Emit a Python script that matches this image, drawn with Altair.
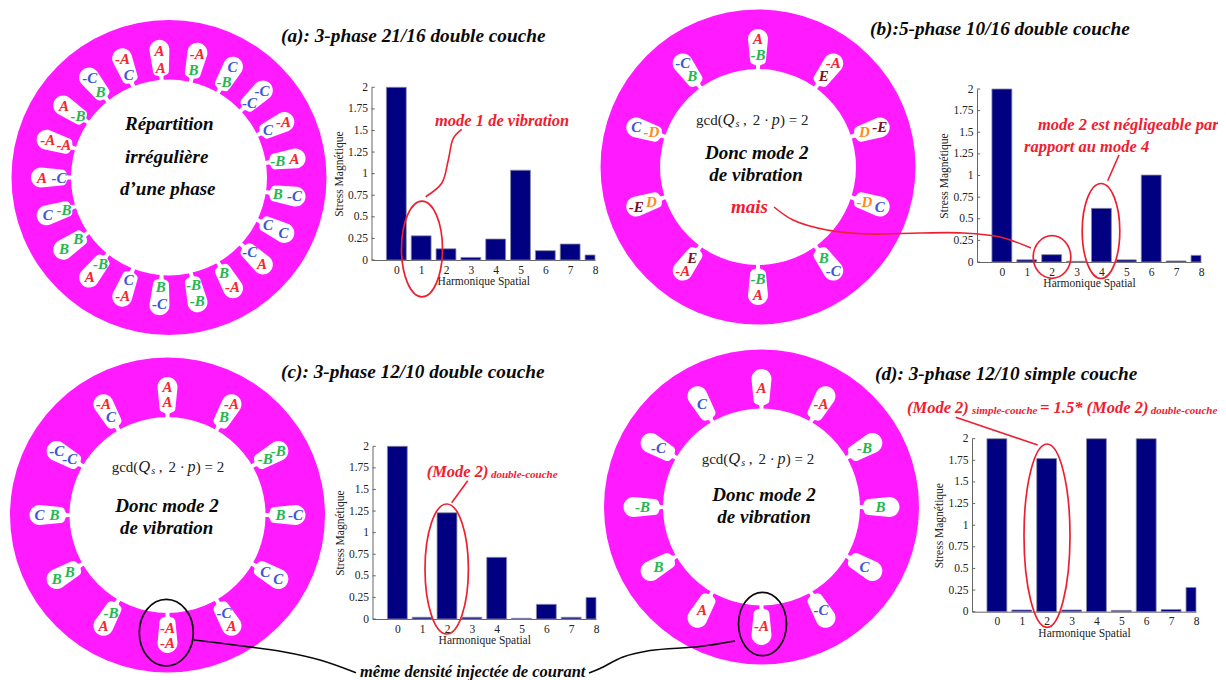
import math
import altair as alt
import pandas as pd

# ---------- values ----------
harm = [0, 1, 2, 3, 4, 5, 6, 7, 8]
stress_a = [2, 0.28, 0.13, 0.03, 0.243, 1.04, 0.108, 0.185, 0.058]
stress_b = [2, 0.025, 0.085, 0.008, 0.62, 0.025, 1.005, 0.012, 0.077]
stress_c = [2, 0.02, 1.23, 0.02, 0.714, 0.008, 0.17, 0.02, 0.25]
stress_d = [2, 0.02, 1.77, 0.02, 2, 0.015, 2, 0.025, 0.28]
y_ticks = [0, 0.25, 0.5, 0.75, 1, 1.25, 1.5, 1.75, 2]

# outer / inner winding of each slot, clockwise from the top
slots_a = [("A","A"),("-A","B"),("C","-B"),("-C","-C"),("-A","C"),("A","-B"),("-C","B"),
           ("C","C"),("A","-C"),("-A","B"),("-B","-B"),("-C","B"),("-A","C"),("A","-B"),
           ("B","B"),("C","-B"),("A","-C"),("-A","-A"),("A","-B"),("-C","B"),("-A","C")]
slots_b = [("A","-B"),("-A","E"),("-E","D"),("C","-D"),("-C","B"),("A","-B"),("-A","E"),
           ("-E","D"),("C","-D"),("-C","B")]
slots_c = [("A","A"),("-A","B"),("-B","-B"),("-C","B"),("C","C"),("A","-C"),("-A","-A"),
           ("A","-B"),("B","B"),("C","B"),("-C","-C"),("-A","C")]
slots_d = ["A","-A","-B","B","C","-C","-A","A","B","-B","-C","C"]

# ring: cx, cy, outer radius, bore radius, first slot angle
rings = [(169, 177.5, 157.5, 98, -4.3), (758, 167, 157.5, 98, 0),
         (167.5, 515, 157.5, 98, 0), (761.5, 507, 157.5, 98.5, 0)]

PHASE = {"A": "#f5262f", "B": "#22b84e", "C": "#3d55d6", "D": "#ff8a1e", "E": "#7d1022"}
RED = "#ee2030"
BLACK = "#0a0a0a"
MAGENTA = "#ff1aff"
SERIF = "Liberation Serif"

W, H = 1210, 672
px_x = alt.Scale(domain=[8, 8 + W], range=[0, W], nice=False, zero=False)
px_y = alt.Scale(domain=[8, 8 + H], range=[0, H], nice=False, zero=False)
X = alt.X("x:Q", scale=px_x, axis=None)
Y = alt.Y("y:Q", scale=px_y, axis=None)


def polar(cx, cy, r, a):
    t = math.radians(a)
    return cx + r * math.sin(t), cy - r * math.cos(t)


# ---------- rotor rings ----------
layers = []
ring_df = pd.DataFrame([dict(x=c[0], y=c[1], outer=(2 * c[2]) ** 2, inner=(2 * c[3]) ** 2) for c in rings])
layers.append(alt.Chart(ring_df).mark_point(shape="circle", filled=True, opacity=1, color=MAGENTA)
              .encode(x=X, y=Y, size=alt.Size("outer:Q", scale=None)))
layers.append(alt.Chart(ring_df).mark_point(shape="circle", filled=True, opacity=1, color="white")
              .encode(x=X, y=Y, size=alt.Size("inner:Q", scale=None)))

SLOT = ("M-2,21 L-2,17.5 Q-2,16 -3.5,15.7 Q-8,15 -8,10.5 L-10,-10 A10,10 0 0 1 10,-10 "
        "L8,10.5 Q8,15 3.5,15.7 Q2,16 2,17.5 L2,21 Z")
slot_rows, wind_rows = [], []
for ring, slots, r_out, r_in in [(rings[0], slots_a, 127, 110), (rings[1], slots_b, 128, 112),
                                 (rings[2], slots_c, 128, 113), (rings[3], slots_d, 119, 119)]:
    cx, cy, _, _, a0 = ring
    n = len(slots)
    for i, s in enumerate(slots):
        a = a0 + i * 360 / n
        x, y = polar(cx, cy, 118, a)
        slot_rows.append(dict(x=x, y=y, a=a % 360))
        pairs = [(s, 119)] if isinstance(s, str) else [(s[0], r_out), (s[1], r_in)]
        for lab, r in pairs:
            lx, ly = polar(cx, cy, r, a)
            wind_rows.append(dict(x=lx, y=ly, text=lab, color=PHASE[lab[-1]], size=15))
layers.append(alt.Chart(pd.DataFrame(slot_rows))
              .mark_point(shape=SLOT, size=4, filled=True, opacity=1, color="white", strokeWidth=0)
              .encode(x=X, y=Y, angle=alt.Angle("a:Q", scale=None)))


def texts(rows, align="center", weight="bold", style="italic"):
    return (alt.Chart(pd.DataFrame(rows, columns=["x", "y", "text", "size", "color"]))
            .mark_text(font=SERIF, fontWeight=weight, fontStyle=style, align=align, baseline="middle")
            .encode(x=X, y=Y, text="text:N", size=alt.Size("size:Q", scale=None),
                    color=alt.Color("color:N", scale=None)))


layers.append(texts(wind_rows))


# ---------- bar panels ----------
def panel(values, x_left, x_right, y0, y2):
    sx = alt.Scale(domain=[-1, 8], range=[x_left - 8, x_right - 8], clamp=True, nice=False, zero=False)
    sy = alt.Scale(domain=[0, 2], range=[y0 - 8, y2 - 8], nice=False, zero=False)
    df = pd.DataFrame({"h": harm, "v": values})
    df["lo"] = df.h - 0.4
    df["hi"] = df.h + 0.4
    df["base"] = 0
    bars = alt.Chart(df).mark_rect(color="#000080", stroke="#8a8aa8", strokeWidth=0.8).encode(
        x=alt.X("lo:Q", scale=sx, axis=alt.Axis(
            orient="bottom", offset=y0 - 8 - H, values=harm, format="d", ticks=False,
            title="Harmonique Spatial", titleFont=SERIF, titleFontSize=11.5, titleFontWeight="normal",
            titleColor="#222", titlePadding=0, labelFont=SERIF, labelFontSize=11.5, labelColor="#222",
            labelPadding=4, labelFlush=False, labelOverlap=False, domainColor="#666", grid=False)),
        x2="hi:Q",
        y=alt.Y("v:Q", scale=sy, axis=alt.Axis(
            orient="left", offset=-(x_left - 8), values=y_ticks, format=".2~f", ticks=False,
            title="Stress Magnétique", titleFont=SERIF, titleFontSize=11.5, titleFontWeight="normal",
            titleColor="#222", titlePadding=3, labelFont=SERIF, labelFontSize=11.5, labelColor="#222",
            labelPadding=4, labelOverlap=False, labelFlush=False, domainColor="#666", grid=False)),
        y2="base:Q")
    tick_df = pd.DataFrame({"t": y_ticks, "a": -1.0, "b": -0.87})
    ticks = alt.Chart(tick_df).mark_rule(color="#666", strokeWidth=1).encode(
        x=alt.X("a:Q", scale=sx, axis=None), x2="b:Q", y=alt.Y("t:Q", scale=sy, axis=None))
    return [ticks, bars]


layers += panel(stress_a, 371.5, 595, 260, 87.3)
layers += panel(stress_b, 977, 1201, 262, 89)
layers += panel(stress_c, 372.5, 596, 619, 446.3)
layers += panel(stress_d, 972, 1196, 611.7, 438.7)

# ---------- ellipses ----------
ellipses = [(422, 249, 20.5, 47.8, RED), (1052, 257, 18.8, 21.3, RED), (1101, 231, 18.8, 47.5, RED),
            (446.7, 569, 21.7, 65, RED), (1047, 535.7, 23, 91.7, RED),
            (166.3, 632.7, 27, 33.3, BLACK), (762.5, 624, 24, 31.7, BLACK)]
for ex, ey, rx, ry, col in ellipses:
    shape = f"M{-rx},0 A{rx},{ry} 0 1 1 {rx},0 A{rx},{ry} 0 1 1 {-rx},0 Z"
    layers.append(alt.Chart(pd.DataFrame({"x": [ex], "y": [ey]}))
                  .mark_point(shape=shape, size=4, filled=False, opacity=1, stroke=col, strokeWidth=1.7)
                  .encode(x=X, y=Y))

# ---------- leader curves ----------
curves = [
    (RED, [(461.7, 129.3), (453.3, 138.3), (448.3, 160), (441.7, 183.3), (425.7, 196.7)]),
    (RED, [(774, 207), (793, 220), (827, 230), (867, 234), (920, 233), (963, 233), (1000, 237), (1031, 248)]),
    (RED, [(1119, 155), (1107.7, 180.7)]),
    (RED, [(467.7, 480.7), (451.7, 502.7)]),
    (RED, [(955.7, 417.3), (1037.7, 445)]),
    (BLACK, [(194, 640), (240, 645.7), (283, 651.7), (320, 660), (356, 672.7)]),
    (BLACK, [(589, 673), (600, 668.5), (623, 657), (650, 650.5), (700, 646.5), (735, 641)]),
]
curve_rows = []
for cid, (col, pts) in enumerate(curves):
    for k, (x, y) in enumerate(pts):
        curve_rows.append(dict(x=x, y=y, id=cid, k=k, color=col))
layers.append(alt.Chart(pd.DataFrame(curve_rows))
              .mark_line(interpolate="catmull-rom", strokeWidth=1.6)
              .encode(x=X, y=Y, detail="id:N", order="k:Q", color=alt.Color("color:N", scale=None)))

# ---------- texts ----------
TT = 19.3
center_bold = [
    ("Donc mode 2", 756.7, 152.7), ("de vibration", 756, 175),
    ("Donc mode 2", 167, 505.7), ("de vibration", 166.7, 528),
    ("Donc mode 2", 764, 495), ("de vibration", 764, 516.7),
]
layers.append(texts([(x, y, t, 19, BLACK) for t, x, y in center_bold]))

left_bold = [
    (281, 36, "(a): 3-phase 21/16 double couche", TT, BLACK),
    (870, 29, "(b):5-phase 10/16 double couche", TT, BLACK),
    (281, 372, "(c): 3-phase 12/10 double couche", TT, BLACK),
    (875, 374, "(d): 3-phase 12/10 simple couche", TT, BLACK),
    (125, 124, "Répartition", 19, BLACK),
    (125, 157, "irrégulière", 19, BLACK),
    (120, 189, "d’une phase", 19, BLACK),
    (360, 671.7, "même densité injectée de courant", 16.5, BLACK),
    (731, 206.7, "mais", 19, RED),
    (435, 121, "mode 1 de vibration", 16.5, RED),
    (1038, 125, "mode 2 est négligeable par", 16.5, RED),
    (1024, 146.7, "rapport au mode 4", 16.5, RED),
    (426.7, 472, "(Mode 2)", 16.5, RED),
    (491, 475, "double-couche", 11, RED),
    (907, 407.7, "(Mode 2)", 16.5, RED),
    (972, 410.7, "simple-couche", 11, RED),
    (1040, 407.7, "= 1.5* (Mode 2)", 16.5, RED),
    (1150.7, 410.7, "double-couche", 11, RED),
]
layers.append(texts(left_bold, align="left"))

gcd_origin = [(696, 120), (111.7, 466.7), (701.7, 459)]
gcd_plain = [(0, "gcd("), (56.7, "2 ·"), (47, ","), (84, ") = 2")]
gcd_italic = [(26.5, 0, "Q", 16.5), (39.5, 4, "s", 10), (75.7, 0, "p", 16)]
plain_rows, italic_rows = [], []
for ox, oy in gcd_origin:
    plain_rows += [(ox + dx, oy, t, 15, "#222") for dx, t in gcd_plain]
    italic_rows += [(ox + dx, oy + dy, t, s, "#222") for dx, dy, t, s in gcd_italic]
layers.append(texts(plain_rows, align="left", weight="normal", style="normal"))
layers.append(texts(italic_rows, align="left", weight="normal", style="italic"))

chart = (alt.layer(*layers)
         .resolve_scale(x="independent", y="independent")
         .resolve_axis(x="independent", y="independent")
         .properties(width=W, height=H, padding=0, background="white",
                     autosize=alt.AutoSizeParams(type="none"))
         .configure_view(stroke=None))
chart.save("out.html", embed_options={"renderer": "svg", "actions": False})
